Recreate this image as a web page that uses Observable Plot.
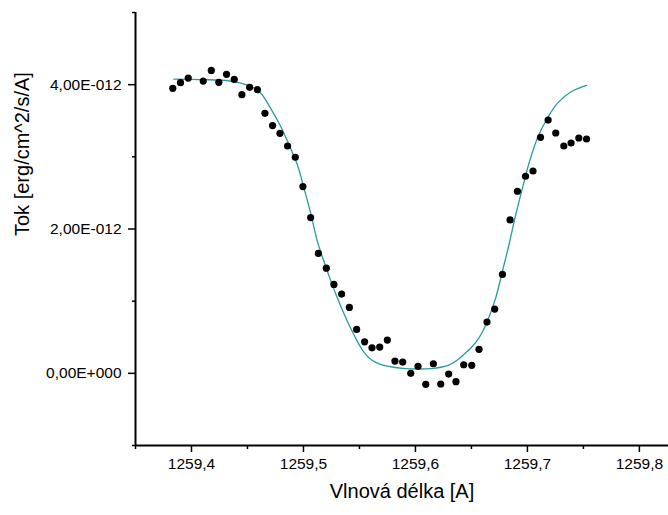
<!DOCTYPE html>
<html>
<head>
<meta charset="utf-8">
<script src="https://cdn.jsdelivr.net/npm/d3@7"></script>
<script src="https://cdn.jsdelivr.net/npm/@observablehq/plot@0.6"></script>
<style>
  html, body { margin: 0; padding: 0; background: #fff; }
</style>
</head>
<body>
<div id="chart"></div>
<script>
// Measured points: wavelength [A] and flux [erg/cm^2/s/A]
const wavelength = [
  1259.3833, 1259.3902, 1259.3971, 1259.4105, 1259.4177, 1259.4244, 1259.4313, 1259.4382,
  1259.4450, 1259.4519, 1259.4588, 1259.4656, 1259.4724, 1259.4790, 1259.4858, 1259.4927,
  1259.4995, 1259.5064, 1259.5133, 1259.5204, 1259.5272, 1259.5341, 1259.5410, 1259.5475,
  1259.5546, 1259.5612, 1259.5681, 1259.5749, 1259.5817, 1259.5886, 1259.5958, 1259.6023,
  1259.6092, 1259.6160, 1259.6226, 1259.6297, 1259.6362, 1259.6431, 1259.6503, 1259.6568,
  1259.6639, 1259.6708, 1259.6777, 1259.6845, 1259.6911, 1259.6983, 1259.7050, 1259.7117,
  1259.7185, 1259.7253, 1259.7325, 1259.7390, 1259.7459, 1259.7528
];
const flux = [
  3.949e-12, 4.028e-12, 4.091e-12, 4.050e-12, 4.198e-12, 4.032e-12, 4.143e-12, 4.073e-12,
  3.862e-12, 3.963e-12, 3.931e-12, 3.603e-12, 3.433e-12, 3.326e-12, 3.150e-12, 2.994e-12,
  2.588e-12, 2.159e-12, 1.661e-12, 1.457e-12, 1.232e-12, 1.098e-12, 0.913e-12, 0.609e-12,
  0.437e-12, 0.354e-12, 0.364e-12, 0.461e-12, 0.170e-12, 0.156e-12, 0.000e-12, 0.097e-12,
  -0.152e-12, 0.133e-12, -0.148e-12, -0.010e-12, -0.116e-12, 0.119e-12, 0.111e-12, 0.332e-12,
  0.710e-12, 0.890e-12, 1.370e-12, 2.126e-12, 2.523e-12, 2.731e-12, 2.804e-12, 3.271e-12,
  3.510e-12, 3.330e-12, 3.150e-12, 3.192e-12, 3.261e-12, 3.247e-12
];

// Fitted curve
const fitWavelength = [
  1259.3842, 1259.4081, 1259.4349, 1259.4528, 1259.4617, 1259.4706, 1259.4796, 1259.4870,
  1259.4945, 1259.5004, 1259.5064, 1259.5124, 1259.5213, 1259.5302, 1259.5391, 1259.5496,
  1259.5546, 1259.5612, 1259.5681, 1259.5749, 1259.5886, 1259.6023, 1259.6160, 1259.6297,
  1259.6362, 1259.6434, 1259.6503, 1259.6554, 1259.6600, 1259.6643, 1259.6717, 1259.6777,
  1259.6836, 1259.6896, 1259.6956, 1259.7015, 1259.7090, 1259.7179, 1259.7269, 1259.7387,
  1259.7530
];
const fitFlux = [
  4.078e-12, 4.071e-12, 4.050e-12, 3.976e-12, 3.884e-12, 3.676e-12, 3.423e-12, 3.170e-12,
  2.893e-12, 2.569e-12, 2.223e-12, 1.831e-12, 1.416e-12, 1.046e-12, 0.724e-12, 0.401e-12,
  0.280e-12, 0.180e-12, 0.128e-12, 0.101e-12, 0.069e-12, 0.060e-12, 0.069e-12, 0.115e-12,
  0.170e-12, 0.263e-12, 0.364e-12, 0.460e-12, 0.580e-12, 0.724e-12, 1.046e-12, 1.416e-12,
  1.785e-12, 2.201e-12, 2.569e-12, 2.915e-12, 3.261e-12, 3.538e-12, 3.745e-12, 3.898e-12,
  3.990e-12
];

// Axes
const xDomain = [1259.35, 1259.826];
const yDomain = [-1e-12, 5e-12];
const xTicks = [1259.4, 1259.5, 1259.6, 1259.7, 1259.8];
const xMinorTicks = [1259.35, 1259.45, 1259.55, 1259.65, 1259.75];
const yTicks = [0, 2e-12, 4e-12];
const yMinorTicks = [-1e-12, 1e-12, 3e-12, 5e-12];
const xTitle = "Vlnová délka [A]";
const yTitle = "Tok [erg/cm^2/s/A]";

const points = wavelength.map((w, i) => ({w, f: flux[i]}));
const fit = fitWavelength.map((w, i) => ({w, f: fitFlux[i]}));

function fmtE(v) {
  if (v === 0) return "0,00E+000";
  let e = Math.floor(Math.log10(Math.abs(v)) + 1e-9);
  let m = v / Math.pow(10, e);
  const sign = e < 0 ? "-" : "+";
  return m.toFixed(2).replace(".", ",") + "E" + sign + String(Math.abs(e)).padStart(3, "0");
}
const fmtX = d => d.toFixed(1).replace(".", ",");

const chart = Plot.plot({
  width: 668,
  height: 515,
  marginLeft: 135,
  marginRight: 0,
  marginTop: 12,
  marginBottom: 70,
  style: {fontFamily: "'Liberation Sans', Arial, sans-serif", fontSize: "15.5px", color: "black", background: "white"},
  x: {domain: xDomain, axis: null},
  y: {domain: yDomain, axis: null},
  marks: [
    Plot.axisX(xTicks, {tickSize: 7, tickPadding: 5, tickFormat: fmtX, strokeWidth: 1.5, label: null, fontSize: 15.5}),
    Plot.axisX(xMinorTicks, {tickSize: 4, tickFormat: () => "", strokeWidth: 1.5, label: null}),
    Plot.axisY(yTicks, {tickSize: 7, tickPadding: 7, tickFormat: fmtE, strokeWidth: 1.5, label: null, fontSize: 15.5}),
    Plot.axisY(yMinorTicks, {tickSize: 3, tickFormat: () => "", strokeWidth: 1.5, label: null}),
    Plot.ruleY([yDomain[0]], {stroke: "black", strokeWidth: 2}),
    Plot.ruleX([xDomain[0]], {stroke: "black", strokeWidth: 2}),
    Plot.line(fit, {x: "w", y: "f", stroke: "#2a9b9b", strokeWidth: 1.3, curve: "catmull-rom"}),
    Plot.dot(points, {x: "w", y: "f", r: 3.6, fill: "black", stroke: "none"}),
    Plot.text([xTitle], {frameAnchor: "bottom", dy: 52, text: d => d, fontSize: 20, fill: "black"}),
    Plot.text([yTitle], {frameAnchor: "left", dx: -113, dy: 7, rotate: -90, text: d => d, fontSize: 20, fill: "black"})
  ]
});
document.getElementById("chart").appendChild(chart);
</script>
</body>
</html>
